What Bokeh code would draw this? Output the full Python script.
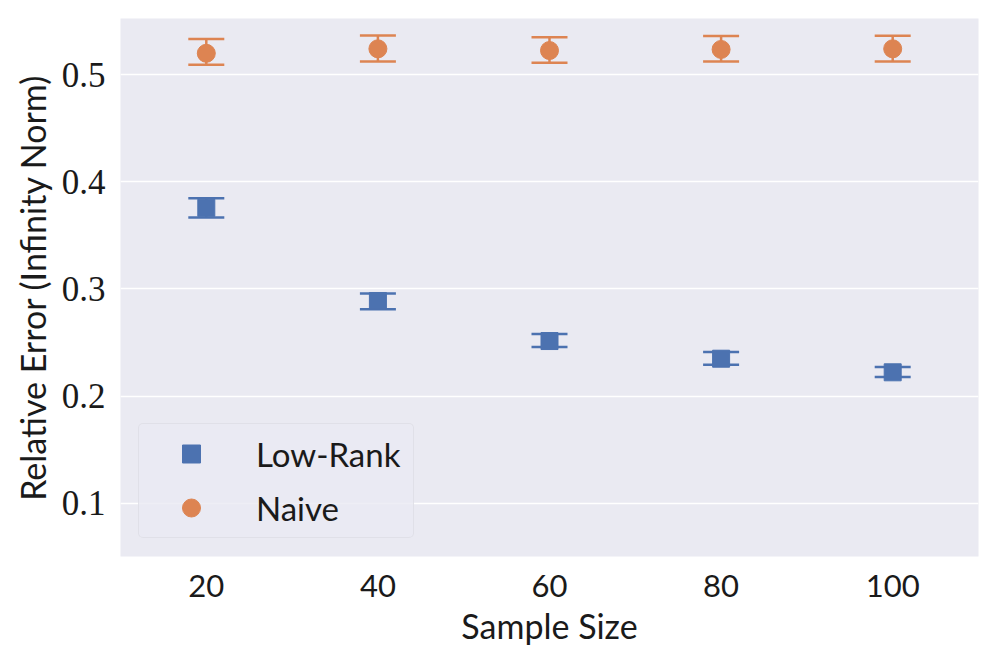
from bokeh.plotting import figure
from bokeh.models import ColumnDataSource, Whisker, TeeHead, Legend, LegendItem, FixedTicker, Range1d
from bokeh.embed import file_html
from bokeh.resources import INLINE

sample_size = [20, 40, 60, 80, 100]

lowrank_mean = [0.3758, 0.2888, 0.2514, 0.2349, 0.2222]
lowrank_upper = [0.3848, 0.2959, 0.2579, 0.2411, 0.2272]
lowrank_lower = [0.3668, 0.2812, 0.2458, 0.2293, 0.2179]

naive_mean = [0.5201, 0.5243, 0.5227, 0.5237, 0.5243]
naive_upper = [0.5334, 0.5367, 0.5350, 0.5362, 0.5365]
naive_lower = [0.5093, 0.5125, 0.5113, 0.5125, 0.5125]

y_ticks = [0.1, 0.2, 0.3, 0.4, 0.5]
x_ticks = [20, 40, 60, 80, 100]

BLUE = "#4C72B0"
ORANGE = "#DD8452"
SANS = "Lato"
SERIF = "Liberation Serif"

p = figure(width=980, height=648, output_backend="svg", toolbar_location=None,
           x_range=Range1d(10, 110), y_range=Range1d(0.0502, 0.5526),
           min_border_left=120, min_border_right=2, min_border_top=18, min_border_bottom=90)

p.background_fill_color = "#EAEAF2"
p.border_fill_color = "white"
p.outline_line_color = None

p.xgrid.grid_line_color = None
p.ygrid.grid_line_color = "white"
p.ygrid.grid_line_width = 1.5

for ax in (p.xaxis, p.yaxis):
    ax.axis_line_color = None
    ax.major_tick_line_color = None
    ax.minor_tick_line_color = None
    ax.major_tick_out = 0
    ax.major_tick_in = 0
    ax.axis_label_text_font = SANS
    ax.axis_label_text_font_style = "normal"
    ax.axis_label_text_font_size = "34px"
    ax.axis_label_text_color = "#1a1a1a"
    ax.major_label_text_color = "#1a1a1a"

p.xaxis.ticker = FixedTicker(ticks=x_ticks)
p.yaxis.ticker = FixedTicker(ticks=y_ticks)
p.xaxis.major_label_text_font = SANS
p.xaxis.major_label_text_font_size = "31px"
p.yaxis.major_label_text_font = SERIF
p.yaxis.major_label_text_font_size = "35px"
p.xaxis.major_label_standoff = 18
p.yaxis.major_label_standoff = 15
p.xaxis.axis_label = "Sample Size"
p.yaxis.axis_label = "Relative Error (Infinity Norm)"
p.xaxis.axis_label_standoff = 5
p.yaxis.axis_label_standoff = 6

src_lr = ColumnDataSource(dict(x=sample_size, y=lowrank_mean, upper=lowrank_upper, lower=lowrank_lower))
src_nv = ColumnDataSource(dict(x=sample_size, y=naive_mean, upper=naive_upper, lower=naive_lower))

for src, col in ((src_lr, BLUE), (src_nv, ORANGE)):
    w = Whisker(base="x", upper="upper", lower="lower", source=src, dimension="height",
                line_color=col, line_width=2.5,
                upper_head=TeeHead(size=36, line_color=col, line_width=2.5),
                lower_head=TeeHead(size=36, line_color=col, line_width=2.5))
    p.add_layout(w)

r_lr = p.scatter("x", "y", source=src_lr, marker="square", size=17,
                 fill_color=BLUE, line_color=BLUE, line_width=1)
r_nv = p.scatter("x", "y", source=src_nv, marker="circle", size=18,
                 fill_color=ORANGE, line_color=ORANGE, line_width=1)

legend = Legend(items=[LegendItem(label="Low-Rank", renderers=[r_lr]),
                       LegendItem(label="Naive", renderers=[r_nv])],
                location=(18, 18), margin=0, padding=7, spacing=9,
                glyph_width=90, glyph_height=45, label_standoff=20, label_width=150,
                label_text_font=SANS, label_text_font_size="33px", label_text_color="#1a1a1a",
                background_fill_color="#EAEAF2", background_fill_alpha=0.8,
                border_line_color="#d8d8de", border_line_width=1, border_radius=5)
p.add_layout(legend, "center")

open("out.html", "w").write(file_html(p, INLINE))
